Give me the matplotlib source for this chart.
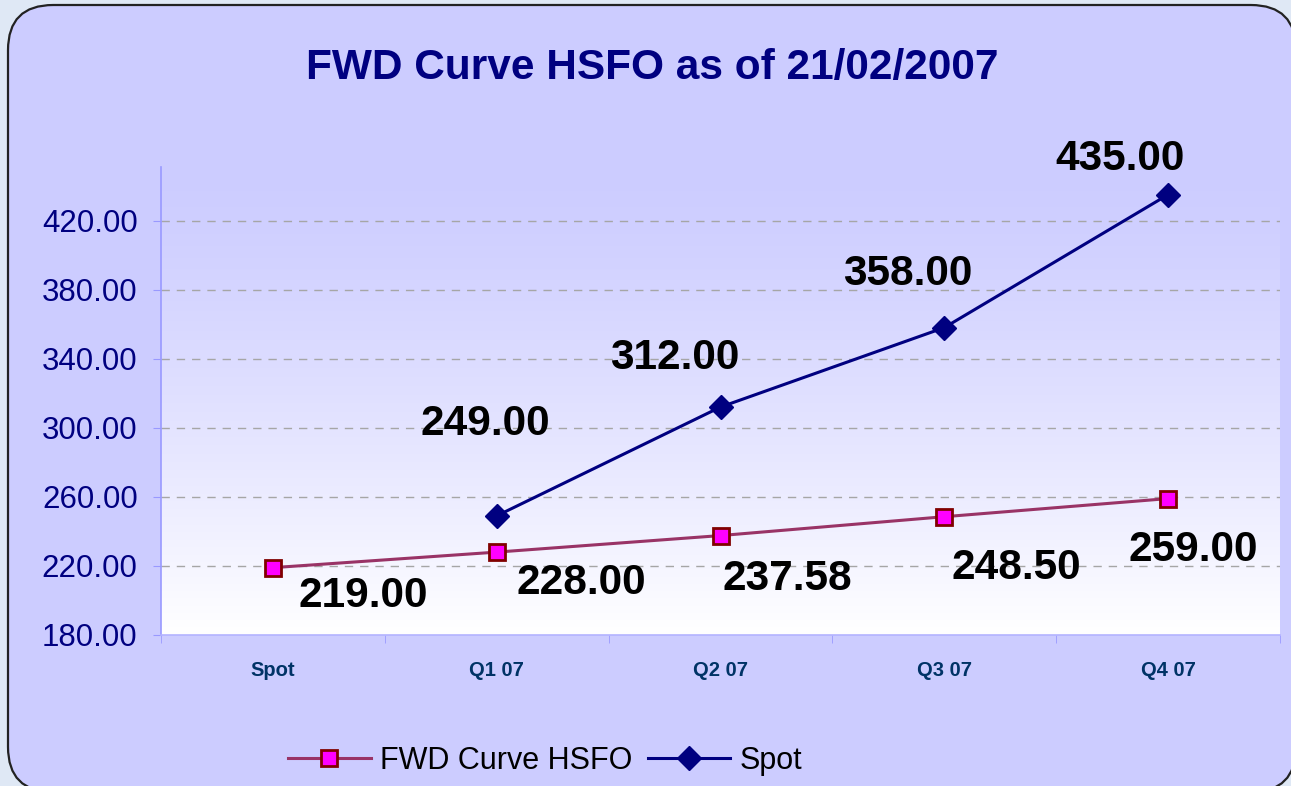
import numpy as np
import matplotlib
matplotlib.use("Agg")
import matplotlib.pyplot as plt
from matplotlib.patches import FancyBboxPatch

# ---------------- DATA ----------------

categories = ["Spot", "Q1 07", "Q2 07", "Q3 07", "Q4 07"]
fwd_values = [219.00, 228.00, 237.58, 248.50, 259.00]
spot_values = [np.nan, 249.00, 312.00, 358.00, 435.00]
y_ticks = [180, 220, 260, 300, 340, 380, 420]

# label offsets in pixels (dx, dy), Excel-like placement
fwd_offsets = [(90, -28), (85, -31), (67, -43), (72, -51), (25, -51)]
spot_offsets = [None, (-11, 92), (-46, 49), (-37, 54), (-48, 36)]

# ---------------- FIGURE ----------------

W, H = 1291, 786
fig = plt.figure(figsize=(W / 100, H / 100), dpi=100)
fig.patch.set_facecolor("#dfe8f5")

# rounded chart frame
frame = FancyBboxPatch(
    (8 / W, 1 - 792 / H), (1296 - 8) / W, (792 - 5) / H,
    boxstyle="round,pad=0,rounding_size=0.035",
    transform=fig.transFigure, facecolor="#ccccff",
    edgecolor="#222222", linewidth=1.6, zorder=0,
    mutation_aspect=W / H
)
fig.patches.append(frame)

ax = fig.add_axes([161 / W, 1 - 635 / H, (1280 - 161) / W, (635 - 167) / H])
ax.set_zorder(2)
ax.set_facecolor("none")

# gradient background of plot area: lavender at top, white at bottom
grad = np.linspace(0, 1, 256).reshape(-1, 1)
top = np.array([204, 204, 255]) / 255
bottom = np.array([255, 255, 255]) / 255
img = top + (bottom - top) * grad[:, :, None] ** 1.3
ax.imshow(img, extent=[0, 1, 0, 1], transform=ax.transAxes,
          aspect="auto", zorder=0, origin="upper")

x = np.arange(len(categories))

ax.set_xlim(-0.5, len(categories) - 0.5)
ax.set_ylim(180, 451)

for yv in y_ticks[1:]:
    ax.axhline(yv, color="#a6a6a6", linestyle=(0, (6, 5)), linewidth=1, zorder=1)

ax.plot(x, fwd_values, color="#993366", linewidth=2.2, marker="s",
        markersize=11.5, markerfacecolor="#ff00ff", markeredgecolor="#800000",
        markeredgewidth=2, label="FWD Curve HSFO", zorder=3)
ax.plot(x, spot_values, color="#000080", linewidth=2.2, marker="D",
        markersize=12, markerfacecolor="#000080", markeredgecolor="#000080",
        label="Spot", zorder=3)

for i, v in enumerate(fwd_values):
    dx, dy = fwd_offsets[i]
    ax.annotate(f"{v:.2f}", (x[i], v), xytext=(dx, dy), textcoords="offset pixels",
                ha="center", va="center", fontsize=30.5, fontweight="bold",
                family=["Liberation Sans", "DejaVu Sans"], color="black",
                annotation_clip=False, zorder=4)

for i, v in enumerate(spot_values):
    if spot_offsets[i] is None:
        continue
    dx, dy = spot_offsets[i]
    ax.annotate(f"{v:.2f}", (x[i], v), xytext=(dx, dy), textcoords="offset pixels",
                ha="center", va="center", fontsize=30.5, fontweight="bold",
                family=["Liberation Sans", "DejaVu Sans"], color="black",
                annotation_clip=False, zorder=4)

# axes styling
ax.set_yticks(y_ticks)
ax.set_yticklabels([f"{v:.2f}" for v in y_ticks],
                   fontsize=22.5, color="#000080", family="Liberation Sans")
ax.set_xticks(x)
ax.set_xticklabels(categories, fontsize=14.5, fontweight="bold",
                   color="#003366", family="Liberation Sans")
ax.set_xticks(np.arange(len(categories) + 1) - 0.5, minor=True)
ax.tick_params(axis="x", which="major", length=0, pad=19)
ax.tick_params(axis="x", which="minor", length=6, color="#9999ff", direction="out")
ax.tick_params(axis="y", length=5.8, color="#9999ff", pad=11)

for side in ["top", "right"]:
    ax.spines[side].set_visible(False)
ax.spines["left"].set_color("#9999ff")
ax.spines["bottom"].set_color("#b3b3ff")
ax.spines["left"].set_linewidth(1.2)
ax.spines["bottom"].set_linewidth(1.2)

fig.text(652 / W, 1 - 68 / H, "FWD Curve HSFO as of 21/02/2007",
         ha="center", va="center", fontsize=30.5, fontweight="bold",
         color="#000080", family="Liberation Sans")

fig.legend(loc="center", bbox_to_anchor=(545 / W, 1 - 761 / H), ncol=2,
           frameon=False, prop={"family": "Liberation Sans", "size": 22},
           handlelength=2.7, handletextpad=0.3, columnspacing=0.5)

fig.savefig("out.png", dpi=100, facecolor=fig.get_facecolor())
